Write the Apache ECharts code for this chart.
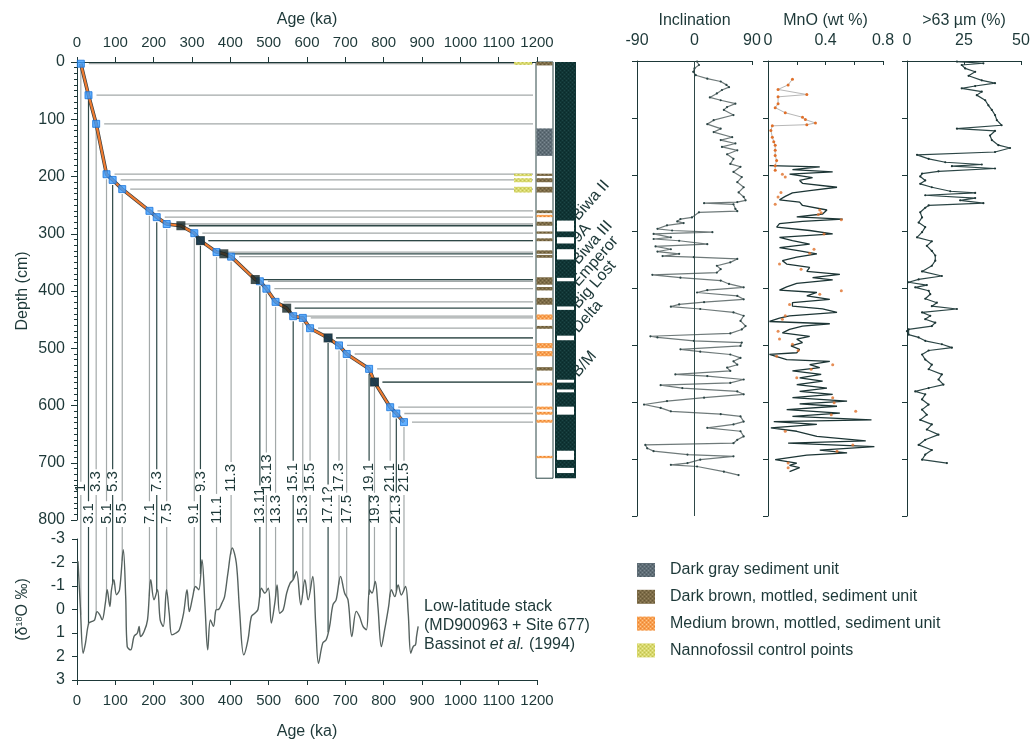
<!DOCTYPE html>
<html>
<head>
<meta charset="utf-8">
<script src="https://cdn.jsdelivr.net/npm/echarts@6/dist/echarts.min.js"></script>
<style>
html, body { margin: 0; padding: 0; background: #fff; }
#chart { width: 1034px; height: 747px; }
</style>
</head>
<body>
<div id="chart"></div>
<script>
// ---------------- data ----------------
// Marine isotope stage tie points (age ka, depth cm, stage label, label row 0 = upper / 1 = lower)
const misAge   = [10, 30, 50, 77, 93, 118, 189, 208, 234, 306, 322, 364, 402, 477, 494, 518, 564, 589, 608, 655, 683.5, 703.5, 762, 776, 817, 833, 853];
const misDepth = [3, 58, 108, 196, 206, 222, 260, 271, 283, 299, 312, 332, 340, 383, 396, 419, 444, 447, 465, 482, 495, 510, 536, 559, 603, 614, 629];
const misLabel = ['1', '3.1', '3.3', '5.1', '5.3', '5.5', '7.1', '7.3', '7.5', '9.1', '9.3', '11.1', '11.3', '13.11', '13.13', '13.3', '15.1', '15.3', '15.5', '17.1?', '17.3', '17.5', '19.1', '19.3', '21.1', '21.3', '21.5'];
const misRow   = [0, 1, 0, 1, 0, 1, 1, 0, 1, 1, 0, 1, 0, 1, 0, 1, 0, 1, 0, 1, 0, 1, 0, 1, 0, 1, 0];

// Geomagnetic excursion tie points
const excAge   = [271, 322, 383, 465, 547, 655, 776];
const excDepth = [286, 312, 335, 380, 430, 482, 559];
const excLabel = ['Biwa II', '9A', 'Biwa III', 'Emperor', 'Big Lost', 'Delta', 'B/M'];

// Lithology column (depth cm); kind 0 dark gray, 1 dark brown mottled, 2 medium brown mottled
const lithTop  = [0, 116, 195, 203, 218, 259, 267, 279, 296, 308, 329, 337, 376, 393, 412, 441, 461, 491, 505, 533, 560, 602, 611, 625, 688];
const lithBot  = [6, 164, 199, 210, 228, 264, 271, 286, 300, 313, 335, 342, 389, 399, 424, 450, 466, 500, 514, 539, 565, 607, 616, 630, 692];
const lithKind = [1, 0, 1, 1, 1, 1, 2, 1, 1, 1, 1, 1, 1, 1, 1, 2, 1, 2, 2, 1, 2, 2, 2, 2, 2];
const coreBottom = 727;

// Nannofossil control points (depth cm)
const nanTop = [0, 195, 203, 218];
const nanBot = [5, 199, 210, 228];

// Reversed-polarity (white) intervals in the polarity column (depth cm)
const polTop = [277, 306, 327, 377, 427, 478, 555, 572, 602, 679, 709];
const polBot = [296, 317, 345, 383, 433, 486, 560, 577, 616, 695, 718];

// Low-latitude d18O stack (age ka, per mil)
const d18Age = [2.6, 8.7, 16, 22, 30.6, 39, 46, 52.5, 59.5, 65.6, 74, 78.7, 85.7, 90, 96, 103, 111, 120.7, 127, 131, 140, 148.7, 157.5, 162, 166, 175, 184, 192.5, 201, 210, 217, 225, 233.6, 240.6, 247.6, 258, 266.8, 278, 287, 293, 302, 309, 317.6, 326, 334, 341, 348, 356, 363, 369, 378, 385, 393.7, 405, 415.6, 424, 435, 446, 455, 464, 472, 481, 490, 499, 507, 516, 522, 529, 538, 547, 556, 564, 572.6, 584, 594.5, 603, 615, 623, 630, 641, 650, 659, 667.6, 676, 687.5, 698, 707, 717, 728.5, 737, 746, 755, 763, 769.6, 778, 785, 794, 802.6, 813, 820, 829, 837.7, 846, 857, 864, 870.7, 877, 883, 885.7, 890];
const d18Val = [-2.05, -0.13, 1.86, 1.44, 0.58, 0.51, 0.44, 0.09, 0.23, 0.44, -0.27, -0.84, -0.13, -0.84, -1.27, -0.63, -0.84, -2.55, -0.55, 1.58, 1.72, 1.15, 1.0, 0.72, 1.15, 0.94, 0.44, -1.27, -0.41, -0.84, 0.44, 0.72, -0.84, 0.16, 1.08, 1.0, 0.87, 0.16, -0.84, 0.09, -0.55, -0.98, -0.84, -2.12, -0.13, 1.72, 0.44, 0.72, 0.01, 0, -0.27, -0.55, -1.55, -2.62, -1.98, 0.01, 1.93, 1.29, 0.3, 0.16, 0, -0.91, -0.7, -0.91, 0.58, -0.27, -1.05, 0.16, 0.01, -0.7, -1.12, -1.27, -1.62, -0.2, -1.27, -0.41, -1.41, 0.72, 2.29, 1.43, 1.29, 0.72, -0.2, -0.41, -1.41, -0.7, -0.41, 1.15, 0.08, 0.3, 0.72, 0.86, -0.84, -0.7, -1.19, -0.13, 1.58, 0.86, -0.13, -0.84, -0.55, -1.05, -0.62, -0.98, 0.15, 1.86, 1.58, 1.5, 1.15, 0.72];

// Inclination (depth cm, degrees)
const incDepth = [1, 7, 13, 19, 25, 31, 36, 42, 46, 51, 57, 64, 69, 75, 81, 86, 95, 104, 111, 119, 125, 134, 139, 145, 151, 157, 164, 172, 181, 186, 195, 204, 213, 222, 231, 239, 245, 248, 250, 252, 260, 264, 266, 275, 278, 282, 285, 289, 295, 298, 301, 304, 310, 313, 316, 322, 326, 331, 335, 339, 343, 345, 348, 354, 360, 366, 372, 376, 381, 386, 392, 398, 403, 407, 413, 419, 424, 428, 432, 436, 442, 448, 457, 466, 472, 479, 484, 486, 492, 495, 501, 507, 511, 516, 522, 528, 534, 539, 545, 551, 554, 560, 566, 570, 575, 581, 586, 592, 598, 604, 610, 616, 621, 625, 634, 639, 645, 651, 660, 666, 672, 675, 681, 686, 692, 695, 701, 707, 710, 713, 722, 728];
const incValue = [4, 7, 0, -2, 2, 20, 41, 50, 54, 43, 35, 24, 41, 64, 51, 46, 61, 30, 20, 41, 30, 59, 41, 64, 43, 67, 51, 61, 56, 72, 61, 74, 67, 77, 69, 77, 80, 67, 15, 61, 64, 67, 7, -4, -22, -27, -17, -43, -58, -35, 28, -64, -37, -64, -24, 20, -61, -37, -58, -24, -50, -1, 67, 56, 35, 41, 35, -66, -22, 41, 54, 77, 20, 4, 67, 77, 15, -24, -37, 9, 61, 77, 72, 80, 74, 56, -69, -58, -1, 74, 72, -22, 9, 56, 72, 61, 67, 51, 56, -30, 20, 77, 56, -53, -19, 67, 77, 15, -43, -79, -53, -37, 41, 72, 77, 61, 20, 72, 77, 67, 61, -77, -74, -64, -11, 61, 9, -11, -37, 4, 46, 69];

// MnO (wt %): upper discrete samples, lower continuous record, and discrete samples along it
const mnoUpDepth = [32, 42, 50, 59, 63, 75, 82, 91, 99, 103, 109, 112, 114, 122, 134, 142, 148, 157, 166, 175, 184, 192];
const mnoUpValue = [0.17, 0.14, 0.07, 0.27, 0.07, 0.07, 0.05, 0.12, 0.24, 0.26, 0.33, 0.27, 0.03, 0.02, 0.03, 0.04, 0.05, 0.05, 0.05, 0.06, 0.05, 0.05];
const mnoDepth = [184, 186, 191, 195, 199, 205, 210, 215, 222, 228, 232, 238, 244, 248, 254, 262, 269, 274, 278, 282, 286, 292, 298, 304, 310, 316, 322, 328, 334, 339, 345, 351, 357, 363, 370, 375, 381, 385, 391, 397, 403, 407, 413, 419, 425, 431, 436, 442, 448, 452, 458, 462, 466, 472, 478, 484, 489, 495, 501, 507, 513, 516, 519, 525, 528, 534, 539, 545, 551, 557, 563, 569, 575, 581, 586, 592, 598, 603, 607, 613, 619, 625, 631, 634, 639, 645, 651, 660, 668, 672, 678, 684, 689, 693, 701, 707, 711, 715, 722];
const mnoValue = [0.01, 0.36, 0.17, 0.45, 0.15, 0.31, 0.22, 0.24, 0.48, 0.29, 0.17, 0.12, 0.08, 0.22, 0.24, 0.41, 0.38, 0.2, 0.52, 0.24, 0.08, 0.06, 0.29, 0.45, 0.08, 0.17, 0.29, 0.08, 0.22, 0.34, 0.2, 0.1, 0.13, 0.29, 0.27, 0.5, 0.31, 0.45, 0.2, 0.13, 0.08, 0.34, 0.27, 0.43, 0.17, 0.17, 0.38, 0.48, 0.15, 0.08, 0.01, 0.43, 0.24, 0.15, 0.1, 0.29, 0.2, 0.24, 0.16, 0.22, 0.2, 0.01, 0, 0.13, 0.43, 0.29, 0.36, 0.17, 0.37, 0.22, 0.38, 0.2, 0.41, 0.22, 0.45, 0.17, 0.55, 0.22, 0.48, 0.13, 0.5, 0.17, 0.72, 0.04, 0.34, 0.02, 0.2, 0.34, 0.68, 0.14, 0.74, 0.36, 0.55, 0.27, 0.05, 0.2, 0.15, 0.22, 0.15];
const mnoDotDepth = [199, 204, 231, 239, 252, 262, 267, 270, 279, 304, 331, 338, 357, 366, 404, 410, 428, 448, 454, 475, 489, 498, 509, 519, 534, 542, 557, 592, 601, 616, 622, 651, 675, 686, 707, 715];
const mnoDotValue = [0.10, 0.12, 0.09, 0.07, 0.05, 0.36, 0.37, 0.35, 0.51, 0.39, 0.32, 0.29, 0.08, 0.23, 0.51, 0.36, 0.15, 0.12, 0.10, 0.07, 0.08, 0.17, 0.21, 0.06, 0.45, 0.30, 0.20, 0.45, 0.46, 0.61, 0.44, 0.12, 0.59, 0.48, 0.14, 0.14];

// Coarse fraction >63 um (depth cm, %)
const coarseDepth = [1, 4, 7, 13, 19, 26, 34, 39, 44, 48, 54, 60, 69, 78, 86, 95, 104, 113, 119, 123, 131, 139, 148, 153, 160, 165, 172, 178, 182, 185, 189, 194, 198, 203, 210, 216, 222, 229, 232, 236, 241, 245, 250, 254, 258, 266, 275, 284, 292, 301, 310, 317, 325, 334, 342, 351, 360, 370, 378, 384, 389, 394, 398, 404, 410, 418, 425, 431, 436, 442, 448, 454, 460, 466, 472, 475, 481, 486, 492, 498, 504, 509, 516, 525, 534, 542, 551, 560, 569, 575, 581, 586, 595, 604, 613, 622, 631, 639, 648, 657, 666, 675, 684, 692, 701, 707];
const coarseValue = [21.9, 33.5, 24, 25.5, 29.9, 27, 32.8, 38.6, 29.9, 24, 32.8, 30.6, 34.3, 35.7, 37.2, 38.6, 39.4, 41.5, 21.9, 38.6, 36.4, 37.2, 40.1, 45.2, 38.6, 4.4, 9.5, 16.8, 32.8, 19.7, 38.6, 13.8, 6.6, 5.8, 8, 5.8, 10.9, 19, 29.9, 8, 29.9, 23.3, 33.5, 9.5, 8, 5.8, 6.6, 5.1, 8, 6.6, 4.4, 10.9, 8.7, 10.9, 12.4, 12.4, 10.9, 6.6, 15.3, 5.1, 0.7, 8.7, 3.6, 9.5, 10.2, 8, 13.1, 10.9, 21.9, 6.6, 10.2, 8, 12.4, 10.9, 0.7, 0, 0.7, 5.1, 8, 15.3, 19.7, 9.5, 6.6, 8, 10.9, 9.5, 15.3, 13.8, 16, 9.5, 3.6, 8, 6.6, 9.5, 6.6, 8.7, 5.8, 10.9, 8.7, 13.8, 8, 5.1, 10.9, 8, 6.6, 17.5];

const legendNames = ['Dark gray sediment unit', 'Dark brown, mottled, sediment unit', 'Medium brown, mottled, sediment unit', 'Nannofossil control points'];

// ---------------- styling helpers ----------------
const FONT = '"Liberation Sans", Arial, Helvetica, sans-serif';
const INK = '#1d3838';
const GRAY_LINE = '#a3a9a9';
const DARK_LINE = '#2e4847';

function mottled(base, dark, light) {
  const c = document.createElement('canvas');
  c.width = 4; c.height = 4;
  const x = c.getContext('2d');
  x.fillStyle = base; x.fillRect(0, 0, 4, 4);
  x.fillStyle = dark; x.fillRect(0, 0, 1, 1); x.fillRect(2, 2, 1, 1);
  x.fillStyle = light; x.fillRect(2, 0, 1, 1); x.fillRect(0, 2, 1, 1);
  return { image: c, repeat: 'repeat' };
}
const fills = [
  mottled('#5f6d76', '#4b5961', '#7b8991'),   // dark gray unit
  mottled('#7c6b47', '#665735', '#978660'),   // dark brown mottled
  mottled('#f79f4f', '#ee8232', '#ffc58a'),   // medium brown mottled
  mottled('#d7d76c', '#c2c24f', '#ecec98')    // nannofossil control
];
const polarityFill = mottled('#103535', '#0a2a2a', '#1d4646');

function pairs(xs, ys) { return xs.map((v, i) => [v, ys[i]]); }
function rows(a, b) { return a.map((v, i) => [b[i], v]); }
const plainNumber = v => String(+(+v).toFixed(2));

function xAxisTop(grid, min, max, interval, name, extra) {
  return Object.assign({
    gridIndex: grid, type: 'value', position: 'top', min: min, max: max, interval: interval,
    name: name, nameLocation: 'middle', nameGap: 32,
    nameTextStyle: { color: INK, fontSize: 16, fontFamily: FONT },
    axisLine: { show: true, onZero: false, lineStyle: { color: INK, width: 1 } },
    axisTick: { show: true, inside: true, length: 4, lineStyle: { color: INK } },
    axisLabel: { color: INK, fontSize: 16, fontFamily: FONT, margin: 12, formatter: plainNumber,
                 showMinLabel: true, showMaxLabel: true, hideOverlap: false },
    splitLine: { show: false }
  }, extra || {});
}
function depthAxis(grid, extra) {
  return Object.assign({
    gridIndex: grid, type: 'value', inverse: true, min: 0, max: 800, interval: 100,
    axisLine: { show: true, onZero: false, lineStyle: { color: INK, width: 1 } },
    axisTick: { show: true, inside: false, length: 5, lineStyle: { color: INK } },
    axisLabel: { show: false },
    splitLine: { show: false }
  }, extra || {});
}
const ageLabel = { color: INK, fontSize: 15, fontFamily: FONT, margin: 12, formatter: plainNumber,
                   showMinLabel: true, showMaxLabel: true, hideOverlap: false };

const modelPts = pairs(misAge, misDepth).concat(pairs(excAge, excDepth))
  .sort((p, q) => (p[1] - q[1]) || (p[0] - q[0]));

const option = {
  animation: false,
  backgroundColor: '#ffffff',
  textStyle: { fontFamily: FONT, color: INK },
  grid: [
    { left: 77, top: 62, width: 460, height: 458 },
    { left: 77, top: 539, width: 460, height: 141 },
    { left: 637, top: 61, width: 115, height: 455 },
    { left: 768, top: 61, width: 115, height: 455 },
    { left: 907, top: 61, width: 114, height: 455 }
  ],
  xAxis: [
    xAxisTop(0, 0, 1200, 100, 'Age (ka)', {
      axisTick: { show: true, inside: false, length: 5, lineStyle: { color: INK } },
      axisLabel: ageLabel,
      nameGap: 34
    }),
    {
      gridIndex: 1, type: 'value', position: 'bottom', min: 0, max: 1200, interval: 100,
      name: 'Age (ka)', nameLocation: 'middle', nameGap: 44,
      nameTextStyle: { color: INK, fontSize: 16, fontFamily: FONT },
      axisLine: { show: true, onZero: false, lineStyle: { color: INK, width: 1 } },
      axisTick: { show: true, inside: false, length: 5, lineStyle: { color: INK } },
      axisLabel: Object.assign({}, ageLabel, { margin: 13 }),
      splitLine: { show: false }
    },
    xAxisTop(2, -90, 90, 90, 'Inclination'),
    xAxisTop(3, 0, 0.8, 0.2, 'MnO (wt %)', {
      axisLabel: {
        color: INK, fontSize: 16, fontFamily: FONT, margin: 12,
        showMinLabel: true, showMaxLabel: true, hideOverlap: false,
        formatter: v => ([0, 0.4, 0.8].some(t => Math.abs(t - v) < 1e-9) ? String(+(+v).toFixed(1)) : '')
      }
    }),
    xAxisTop(4, 0, 50, 25, '>63 \u00b5m (%)')
  ],
  yAxis: [
    depthAxis(0, {
      name: 'Depth (cm)', nameLocation: 'middle', nameGap: 46,
      nameTextStyle: { color: INK, fontSize: 16, fontFamily: FONT },
      axisTick: { show: true, inside: false, length: 6, lineStyle: { color: INK } },
      minorTick: { show: true, splitNumber: 10, length: 3, lineStyle: { color: INK } },
      axisLabel: { show: true, color: INK, fontSize: 16, fontFamily: FONT, margin: 12,
                   showMinLabel: true, showMaxLabel: true, hideOverlap: false }
    }),
    {
      gridIndex: 1, type: 'value', inverse: true, min: -3, max: 3, interval: 1,
      name: '(\u03b4{s|18}O \u2030)', nameLocation: 'middle', nameGap: 46,
      nameTextStyle: {
        color: INK, fontSize: 16, fontFamily: FONT,
        rich: { s: { fontSize: 9, color: INK, fontFamily: FONT, verticalAlign: 'top', lineHeight: 14 } }
      },
      axisLine: { show: true, onZero: false, lineStyle: { color: INK, width: 1 } },
      axisTick: { show: true, inside: false, length: 5, lineStyle: { color: INK } },
      axisLabel: { color: INK, fontSize: 16, fontFamily: FONT, margin: 12,
                   showMinLabel: true, showMaxLabel: true, hideOverlap: false },
      splitLine: { show: false }
    },
    depthAxis(2), depthAxis(3), depthAxis(4)
  ],
  series: [
    // d18O stack
    {
      type: 'line', xAxisIndex: 1, yAxisIndex: 1, data: pairs(d18Age, d18Val),
      smooth: 0.35, symbol: 'none', lineStyle: { color: '#56625f', width: 1.4 }, z: 3
    },
    // horizontal tie lines to the lithology column
    {
      type: 'custom', xAxisIndex: 0, yAxisIndex: 0, clip: false, z: 2,
      data: pairs(misAge, misDepth).map(p => p.concat(0)).concat(pairs(excAge, excDepth).map(p => p.concat(1))),
      renderItem: function (params, api) {
        const p = api.coord([api.value(0), api.value(1)]);
        const end = api.coord([1200, api.value(1)]);
        return {
          type: 'line',
          shape: { x1: p[0] + 8, y1: p[1], x2: end[0] - 4, y2: p[1] },
          style: { stroke: api.value(2) ? DARK_LINE : GRAY_LINE, lineWidth: 1.3 }
        };
      }
    },
    // age model: dark under-stroke and orange line
    {
      type: 'line', xAxisIndex: 0, yAxisIndex: 0, data: modelPts, symbol: 'none',
      lineStyle: { color: '#3b3f3f', width: 3.6 }, z: 4
    },
    {
      type: 'line', xAxisIndex: 0, yAxisIndex: 0, data: modelPts, symbol: 'none',
      lineStyle: { color: '#ef7b30', width: 2.2 }, z: 5
    },
    // isotope-stage tie points
    {
      type: 'scatter', xAxisIndex: 0, yAxisIndex: 0, data: pairs(misAge, misDepth),
      symbol: 'rect', symbolSize: 7,
      itemStyle: { color: '#3b9cff', borderColor: '#1b74d8', borderWidth: 1 }, z: 6
    },
    // excursion tie points
    {
      type: 'scatter', xAxisIndex: 0, yAxisIndex: 0, data: pairs(excAge, excDepth),
      symbol: 'rect', symbolSize: 9, itemStyle: { color: '#142626' }, z: 7
    },
    // lithology column
    {
      type: 'custom', xAxisIndex: 0, yAxisIndex: 0, clip: false, z: 8,
      data: [[coreBottom, 0, -1]].concat(lithTop.map((t, i) => [lithBot[i], t, lithKind[i]])),
      renderItem: function (params, api) {
        const a = api.coord([1200, api.value(1)]);
        const b = api.coord([1200, api.value(0)]);
        const k = api.value(2);
        if (k < 0) {
          return {
            type: 'rect', shape: { x: a[0] - 1, y: a[1], width: 17, height: b[1] - a[1] },
            style: { fill: '#ffffff', stroke: '#2d4747', lineWidth: 1 }
          };
        }
        return {
          type: 'rect', shape: { x: a[0] - 0.5, y: a[1], width: 16, height: b[1] - a[1] },
          style: { fill: fills[k] }
        };
      }
    },
    // nannofossil control points
    {
      type: 'custom', xAxisIndex: 0, yAxisIndex: 0, clip: false, z: 8,
      data: nanTop.map((t, i) => [nanBot[i], t]),
      renderItem: function (params, api) {
        const a = api.coord([1200, api.value(1)]);
        const b = api.coord([1200, api.value(0)]);
        return {
          type: 'rect', shape: { x: a[0] - 23, y: a[1], width: 18, height: Math.max(2.5, b[1] - a[1]) },
          style: { fill: fills[3] }
        };
      }
    },
    // polarity column
    {
      type: 'custom', xAxisIndex: 0, yAxisIndex: 0, clip: false, z: 8,
      data: [[coreBottom, 0, 0]].concat(polTop.map((t, i) => [polBot[i], t, 1])),
      renderItem: function (params, api) {
        const a = api.coord([1200, api.value(1)]);
        const b = api.coord([1200, api.value(0)]);
        if (api.value(2) === 0) {
          return {
            type: 'rect', shape: { x: a[0] + 18, y: a[1], width: 21, height: b[1] - a[1] },
            style: { fill: polarityFill }
          };
        }
        return {
          type: 'rect', shape: { x: a[0] + 20, y: a[1], width: 17, height: b[1] - a[1] },
          style: { fill: '#ffffff' }
        };
      }
    },
    // inclination
    {
      type: 'line', xAxisIndex: 2, yAxisIndex: 2, data: rows(incDepth, incValue),
      symbol: 'circle', symbolSize: 2.2, showAllSymbol: true,
      itemStyle: { color: '#2b4545' }, lineStyle: { color: '#6f7a7a', width: 1.2 },
      markLine: {
        silent: true, symbol: 'none', label: { show: false },
        lineStyle: { color: DARK_LINE, width: 1, type: 'solid' },
        data: [{ xAxis: 0 }]
      }, z: 3
    },
    // MnO
    {
      type: 'line', xAxisIndex: 3, yAxisIndex: 3, data: rows(mnoUpDepth, mnoUpValue),
      symbol: 'circle', symbolSize: 3, showAllSymbol: true,
      itemStyle: { color: '#e0702a' }, lineStyle: { color: '#b7b7b7', width: 1 }, z: 3
    },
    {
      type: 'line', xAxisIndex: 3, yAxisIndex: 3, data: rows(mnoDepth, mnoValue),
      symbol: 'none', lineStyle: { color: '#1c3535', width: 1.3 }, z: 3
    },
    {
      type: 'scatter', xAxisIndex: 3, yAxisIndex: 3, data: rows(mnoDotDepth, mnoDotValue),
      symbol: 'circle', symbolSize: 3, itemStyle: { color: '#e0702a' }, z: 4
    },
    // coarse fraction
    {
      type: 'line', xAxisIndex: 4, yAxisIndex: 4, data: rows(coarseDepth, coarseValue),
      symbol: 'circle', symbolSize: 2.2, showAllSymbol: true,
      itemStyle: { color: '#1c3535' }, lineStyle: { color: '#2c4646', width: 1.2 }, z: 3
    }
  ]
};

const chart = echarts.init(document.getElementById('chart'), null, { renderer: 'canvas' });
chart.setOption(option);

// ---------- stage labels, connectors, excursion labels, legend ----------
function d18At(a) {
  for (let i = 1; i < d18Age.length; i++) {
    if (a <= d18Age[i]) {
      const t = (a - d18Age[i - 1]) / (d18Age[i] - d18Age[i - 1]);
      return d18Val[i - 1] + t * (d18Val[i] - d18Val[i - 1]);
    }
  }
  return d18Val[d18Val.length - 1];
}

const measure = document.createElement('canvas').getContext('2d');
const LABEL_FONT = '15px ' + FONT;
measure.font = LABEL_FONT;

const isoTop = chart.convertToPixel({ gridIndex: 1 }, [0, -3])[1];
const rowBottom = [isoTop - 47, isoTop - 15];
const elements = [];

misAge.forEach((a, i) => {
  const p = chart.convertToPixel({ gridIndex: 0 }, [a, misDepth[i]]);
  const q = chart.convertToPixel({ gridIndex: 1 }, [a, d18At(a)]);
  const bottom = rowBottom[misRow[i]];
  const len = measure.measureText(misLabel[i]).width;
  const stroke = (i % 3 === 1) ? DARK_LINE : GRAY_LINE;
  elements.push({
    type: 'line', silent: true, z: 1,
    shape: { x1: p[0], y1: p[1] + 5, x2: p[0], y2: bottom - len - 2 },
    style: { stroke: stroke, lineWidth: 1.2 }
  });
  elements.push({
    type: 'line', silent: true, z: 1,
    shape: { x1: p[0], y1: bottom + 3, x2: p[0], y2: q[1] },
    style: { stroke: stroke, lineWidth: 1.2 }
  });
  elements.push({
    type: 'text', silent: true, z: 2, x: p[0], y: bottom, rotation: Math.PI / 2,
    style: {
      text: misLabel[i], font: LABEL_FONT, fill: INK,
      align: 'left', verticalAlign: 'middle', textAlign: 'left', textVerticalAlign: 'middle'
    }
  });
});

// excursion names, stepped so neighbouring names stay apart
const colRight = chart.convertToPixel({ gridIndex: 0 }, [1200, 0])[0] + 39;
let prevY = -Infinity;
excAge.forEach((a, i) => {
  const p = chart.convertToPixel({ gridIndex: 0 }, [a, excDepth[i]]);
  const y = Math.max(p[1] - 2, prevY + 22);
  prevY = y;
  elements.push({
    type: 'text', silent: true, z: 2, x: colRight + 5, y: y, rotation: 0.85,
    style: {
      text: excLabel[i], font: '16px ' + FONT, fill: INK,
      align: 'left', verticalAlign: 'bottom', textAlign: 'left', textVerticalAlign: 'bottom'
    }
  });
});

// stack annotation
['Low-latitude stack', '(MD900963 + Site 677)', 'Bassinot {i|et al.} (1994)'].forEach((t, i) => {
  elements.push({
    type: 'text', silent: true, x: 424, y: 607 + i * 19,
    style: {
      text: t, font: '16px ' + FONT, fill: INK, verticalAlign: 'middle', textVerticalAlign: 'middle',
      rich: { i: { fontStyle: 'italic', fontSize: 16, fontFamily: FONT, fill: INK, color: INK } }
    }
  });
});

// legend
legendNames.forEach((name, i) => {
  const cy = 570 + i * 26.8;
  elements.push({
    type: 'rect', silent: true, shape: { x: 637, y: cy - 7, width: 18, height: 14 },
    style: { fill: fills[i] }
  });
  elements.push({
    type: 'text', silent: true, x: 670, y: cy,
    style: { text: name, font: '16px ' + FONT, fill: INK, verticalAlign: 'middle', textVerticalAlign: 'middle' }
  });
});

chart.setOption({ graphic: { elements: elements } });
</script>
</body>
</html>
